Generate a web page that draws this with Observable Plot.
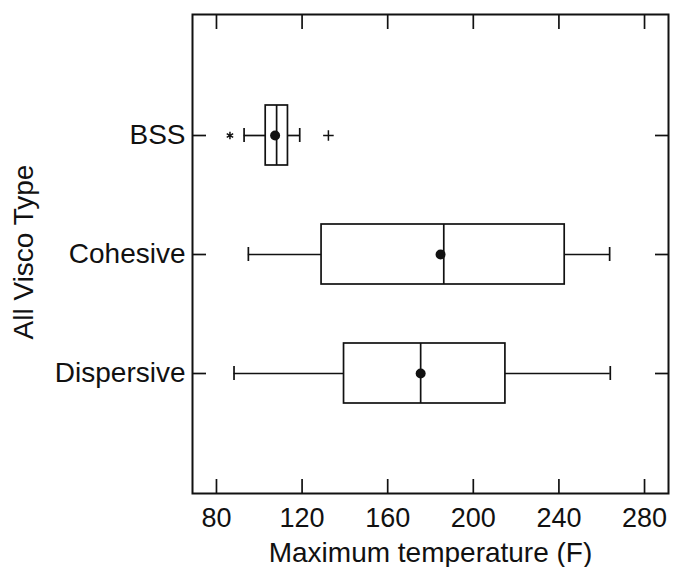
<!DOCTYPE html>
<html>
<head>
<meta charset="utf-8">
<script src="https://cdn.jsdelivr.net/npm/d3@7"></script>
<script src="https://cdn.jsdelivr.net/npm/@observablehq/plot@0.6"></script>
<style>
  html, body { margin: 0; padding: 0; background: #fff; }
  #chart svg { display: block; font-family: "Liberation Sans", Arial, sans-serif; }
</style>
</head>
<body>
<div id="chart"></div>
<script>
const types = ["BSS", "Cohesive", "Dispersive"];
const whiskerLow = [92.9, 94.9, 88.2];
const q1 = [103, 129.1, 139.6];
const median = [108.1, 186.2, 175.4];
const mean = [107.4, 184.7, 175.4];
const q3 = [113.4, 242.7, 215];
const whiskerHigh = [118.9, 263.7, 264];

const outlierType = ["BSS", "BSS"];
const outlierValue = [86.3, 132.3];
const outlierSymbol = ["asterisk", "plus"];

const xTicks = [80, 120, 160, 200, 240, 280];
const xLabel = "Maximum temperature (F)";
const yLabel = "All Visco Type";

const rows = types.map((t, i) => ({
  type: t, lo: whiskerLow[i], q1: q1[i], med: median[i], mean: mean[i], q3: q3[i], hi: whiskerHigh[i]
}));
const outliers = outlierType.map((t, i) => ({type: t, value: outlierValue[i], symbol: outlierSymbol[i]}));

const ink = "#111";
const sw = 1.7;
const chart = Plot.plot({
  width: 673,
  height: 567,
  marginLeft: 192,
  marginRight: 5,
  marginTop: 14,
  marginBottom: 74,
  style: {fontSize: "28px", fontFamily: "Liberation Sans, Arial, sans-serif", color: ink, background: "#fff"},
  x: {domain: [68.8, 291.2]},
  y: {domain: types, paddingInner: 0.5, paddingOuter: 0.75},
  marks: [
    Plot.ruleY(rows, {y: "type", x1: "lo", x2: "q1", stroke: ink, strokeWidth: sw}),
    Plot.ruleY(rows, {y: "type", x1: "q3", x2: "hi", stroke: ink, strokeWidth: sw}),
    Plot.tickX(rows, {x: "lo", y: "type", stroke: ink, strokeWidth: sw, insetTop: 23, insetBottom: 23}),
    Plot.tickX(rows, {x: "hi", y: "type", stroke: ink, strokeWidth: sw, insetTop: 23, insetBottom: 23}),
    Plot.barX(rows, {y: "type", x1: "q1", x2: "q3", fill: "white", stroke: ink, strokeWidth: sw}),
    Plot.tickX(rows, {x: "med", y: "type", stroke: ink, strokeWidth: sw}),
    Plot.dot(rows, {x: "mean", y: "type", r: 5, fill: ink, stroke: "none"}),
    Plot.dot(outliers, {x: "value", y: "type", symbol: "symbol", r: 3.5, stroke: ink, strokeWidth: 1.5}),
    Plot.axisX({anchor: "bottom", ticks: xTicks, tickSize: -14, tickPadding: 28, strokeWidth: sw, label: null, fontSize: 27}),
    Plot.axisX({anchor: "top", ticks: xTicks, tickSize: -14, tickFormat: () => "", strokeWidth: sw, label: null}),
    Plot.axisY({anchor: "left", tickSize: -14, tickPadding: 21, strokeWidth: sw, label: null, fontSize: 28}),
    Plot.axisY({anchor: "right", tickSize: -14, tickFormat: () => "", strokeWidth: sw, label: null}),
    Plot.frame({stroke: ink, strokeWidth: 2}),
    Plot.text([xLabel], {text: d => d, frameAnchor: "bottom", textAnchor: "middle", lineAnchor: "middle", dy: 60, fontSize: 28, fill: ink}),
    Plot.text([yLabel], {text: d => d, frameAnchor: "left", textAnchor: "middle", lineAnchor: "middle", dx: -168, dy: -2, rotate: -90, fontSize: 28, fill: ink})
  ]
});
document.getElementById("chart").appendChild(chart);
</script>
</body>
</html>
